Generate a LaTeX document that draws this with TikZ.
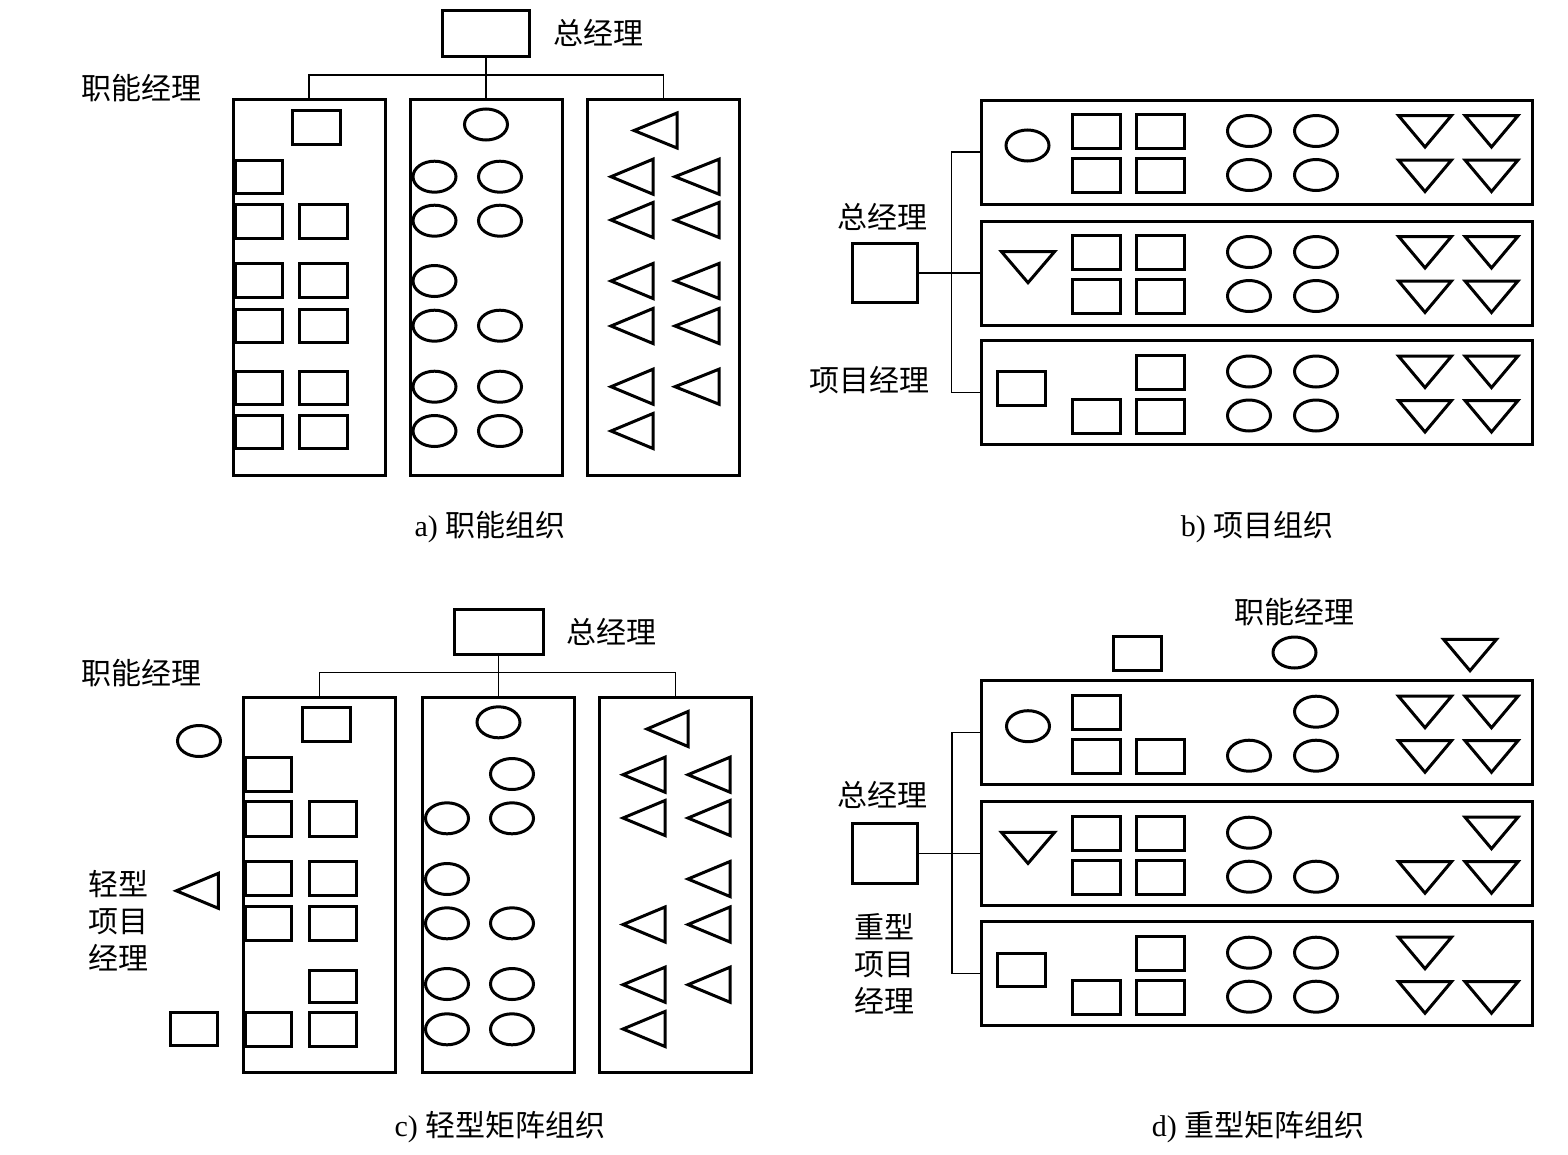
\documentclass[tikz,border=0pt]{standalone}
\usepackage{fontspec}
\setmainfont{Liberation Serif}
\newfontfamily\cjk{Noto Sans CJK SC}
\tikzset{
  panel/.style={draw, line width=3pt, inner sep=0pt, outer sep=0pt, minimum width=152pt, minimum height=376pt},
  rowbox/.style={draw, line width=3pt, inner sep=0pt, outer sep=0pt, minimum width=551pt, minimum height=104pt},
  gmbox/.style={draw, line width=3pt, inner sep=0pt, outer sep=0pt},
  conn/.style={line width=1.5pt},
  shp/.style={line width=3pt, line join=miter},
  lbl/.style={font=\cjk\fontsize{30}{37}\selectfont, inner sep=0pt, align=center},
  captxt/.style={font=\fontsize{30}{36}\selectfont, inner sep=0pt},
}
\newcommand\Rc[4]{\draw[shp] (#1,#2) rectangle (#3,#4);}
\newcommand\El[2]{\draw[shp] (#1,#2) ellipse [x radius=21.5pt, y radius=15.5pt];}
\newcommand\Tl[3]{\draw[shp] (#1,#3) -- (#2,#3-17.5) -- (#2,#3+17.5) -- cycle;}
\newcommand\Td[3]{\draw[shp] (#1-26.5,#2) -- (#1+26.5,#2) -- (#1,#3) -- cycle;}
\newcommand\SqOne[1]{\Rc{1072}{#1}{1120}{#1+34}}
\newcommand\SqTwo[1]{\Rc{1136}{#1}{1184.5}{#1+34}}
\newcommand\ElOne[1]{\El{1249}{#1}}
\newcommand\ElTwo[1]{\El{1316}{#1}}
\newcommand\TdOne[1]{\Td{1425}{#1}{#1+31.5}}
\newcommand\TdTwo[1]{\Td{1491.5}{#1}{#1+31.5}}
\begin{document}
\begin{tikzpicture}[x=1pt,y=-1pt]
\useasboundingbox (0,0) rectangle (1568,1154);
\fill[white] (0,0) rectangle (1568,1154);

% ================= a) =================
\node[gmbox, minimum width=87pt, minimum height=46pt] (gma) at (486,33) {};
\node[lbl, anchor=west] (gmat) at (553,33) {总经理};
\node[lbl] (fma) at (141,88) {职能经理};
\node[panel] (a1) at (309,287) {};
\node[panel] (a2) at (486,287) {};
\node[panel] (a3) at (663.5,287) {};
\coordinate (abus) at (486,75);
\draw[conn] (gma.south) -- (a2.north);
\draw[conn] (a1.north) |- (abus) -| (a3.north);
\node[captxt] (capa) at (490,527) {a) {\cjk 职能组织}};
% panel a1
\Rc{292}{110}{340}{144}
\Rc{235}{160}{282}{193}
\Rc{235}{204}{282}{238} \Rc{299}{204}{347}{238}
\Rc{235}{263}{282}{297} \Rc{299}{263}{347}{297}
\Rc{235}{309}{282}{342} \Rc{299}{309}{347}{342}
\Rc{235}{371}{282}{404} \Rc{299}{371}{347}{404}
\Rc{235}{415}{282}{448} \Rc{299}{415}{347}{448}
% panel a2
\El{486}{124.5}
\El{434.5}{176.7} \El{500}{176.7}
\El{434.5}{220.7} \El{500}{220.7}
\El{434.5}{281}
\El{434.5}{325.7} \El{500}{325.7}
\El{434.5}{386.7} \El{500}{386.7}
\El{434.5}{431} \El{500}{431}
% panel a3
\Tl{634}{677}{130.5}
\Tl{611}{653}{176.7} \Tl{675}{719}{176.7}
\Tl{611}{653}{220} \Tl{675}{719}{220}
\Tl{611}{653}{281} \Tl{675}{719}{281}
\Tl{611}{653}{326} \Tl{675}{719}{326}
\Tl{611}{653}{386.7} \Tl{675}{719}{386.7}
\Tl{611}{653}{431}

% ================= b) =================
\node[gmbox, minimum width=65pt, minimum height=59pt] (gmb) at (884.5,273) {};
\node[lbl] (gmbt) at (882,217) {总经理};
\node[lbl] (pmb) at (869,380) {项目经理};
\node[rowbox] (b1) at (1257,152) {};
\node[rowbox] (b2) at (1257,273) {};
\node[rowbox] (b3) at (1257,392.5) {};
\coordinate (bbus) at (951.5,273);
\draw[conn] (gmb.east) -- (b2.west);
\draw[conn] (b1.west) -| (bbus) |- (b3.west);
\node[captxt] (capb) at (1257,527) {b) {\cjk 项目组织}};
% b1
\El{1027.5}{145.5}
\SqOne{114.5} \SqTwo{114.5} \SqOne{158.5} \SqTwo{158.5}
\ElOne{131} \ElTwo{131} \ElOne{175} \ElTwo{175}
\TdOne{115.5} \TdTwo{115.5} \TdOne{160} \TdTwo{160}
% b2
\Td{1028}{251.7}{282.7}
\SqOne{235.5} \SqTwo{235.5} \SqOne{279.5} \SqTwo{279.5}
\ElOne{252} \ElTwo{252} \ElOne{296} \ElTwo{296}
\TdOne{236.5} \TdTwo{236.5} \TdOne{281} \TdTwo{281}
% b3
\Rc{997.5}{371.8}{1045.5}{405.2}
\SqTwo{355} \SqOne{399} \SqTwo{399}
\ElOne{371.5} \ElTwo{371.5} \ElOne{415.5} \ElTwo{415.5}
\TdOne{356} \TdTwo{356} \TdOne{400.5} \TdTwo{400.5}

% ================= c) =================
\node[gmbox, minimum width=89pt, minimum height=45pt] (gmc) at (498.5,632) {};
\node[lbl, anchor=west] (gmct) at (566,632) {总经理};
\node[lbl] (fmc) at (141,673) {职能经理};
\node[lbl] (lpm) at (118,921) {轻型\\项目\\经理};
\node[panel, minimum height=375pt] (c1) at (319.5,885.2) {};
\node[panel, minimum height=375pt] (c2) at (498.5,885.2) {};
\node[panel, minimum height=375pt] (c3) at (675.5,885.2) {};
\coordinate (cbus) at (498.5,672.7);
\draw[conn] (gmc.south) -- (c2.north);
\draw[conn] (c1.north) |- (cbus) -| (c3.north);
\node[captxt] (capc) at (500,1127) {c) {\cjk 轻型矩阵组织}};
% outside
\El{199}{741}
\Tl{176.3}{218.4}{890.8}
\Rc{170}{1012}{217.5}{1045.7}
% c1
\Rc{302}{707.3}{350.7}{741.7}
\Rc{245}{757.3}{291.5}{791.7}
\Rc{245}{801.7}{291.5}{836} \Rc{309}{801.7}{356.5}{836}
\Rc{245}{861.7}{291.5}{895} \Rc{309}{861.7}{356.5}{895}
\Rc{245}{906.7}{291.5}{940} \Rc{309}{906.7}{356.5}{940}
\Rc{309}{970}{356.5}{1002.7}
\Rc{245}{1012.3}{291.5}{1046.7} \Rc{309}{1012.3}{356.5}{1046.7}
% c2
\El{498.5}{722.3}
\El{512}{774}
\El{447}{818.3} \El{512}{818.3}
\El{447}{879}
\El{447}{923.3} \El{512}{923.3}
\El{447}{984} \El{512}{984}
\El{447}{1029.3} \El{512}{1029.3}
% c3
\Tl{647}{688}{729}
\Tl{623}{665}{774.7} \Tl{688}{730}{774.7}
\Tl{623}{665}{818} \Tl{688}{730}{818}
\Tl{688}{730}{879}
\Tl{623}{665}{924.5} \Tl{688}{730}{924.5}
\Tl{623}{665}{984.7} \Tl{688}{730}{984.7}
\Tl{623}{665}{1029}

% ================= d) =================
\node[gmbox, minimum width=65pt, minimum height=60pt] (gmd) at (884.5,853.7) {};
\node[lbl] (gmdt) at (882,795) {总经理};
\node[lbl] (hpm) at (884,964) {重型\\项目\\经理};
\node[lbl] (fmd) at (1294,612) {职能经理};
\node[rowbox] (d1) at (1257,732.7) {};
\node[rowbox] (d2) at (1257,853.7) {};
\node[rowbox] (d3) at (1257,973.7) {};
\coordinate (dbus) at (952,853.7);
\draw[conn] (gmd.east) -- (d2.west);
\draw[conn] (d1.west) -| (dbus) |- (d3.west);
\node[captxt] (capd) at (1258,1127) {d) {\cjk 重型矩阵组织}};
% top functional managers
\Rc{1113.5}{636}{1161}{670}
\El{1294.5}{652.5}
\Td{1470}{639.3}{670.7}
% d1
\El{1028}{726.2}
\SqOne{695.2} \SqOne{739.2} \SqTwo{739.2}
\ElTwo{711.7} \ElOne{755.7} \ElTwo{755.7}
\TdOne{696.2} \TdTwo{696.2} \TdOne{740.7} \TdTwo{740.7}
% d2
\Td{1028}{832.4}{863.4}
\SqOne{816.2} \SqTwo{816.2} \SqOne{860.2} \SqTwo{860.2}
\ElOne{832.7} \ElOne{876.7} \ElTwo{876.7}
\TdTwo{817.2} \TdOne{861.7} \TdTwo{861.7}
% d3
\Rc{997.5}{953}{1045.5}{986.4}
\SqTwo{936.2} \SqOne{980.2} \SqTwo{980.2}
\ElOne{952.7} \ElTwo{952.7} \ElOne{996.7} \ElTwo{996.7}
\TdOne{937.2} \TdOne{981.7} \TdTwo{981.7}
\end{tikzpicture}
\end{document}
